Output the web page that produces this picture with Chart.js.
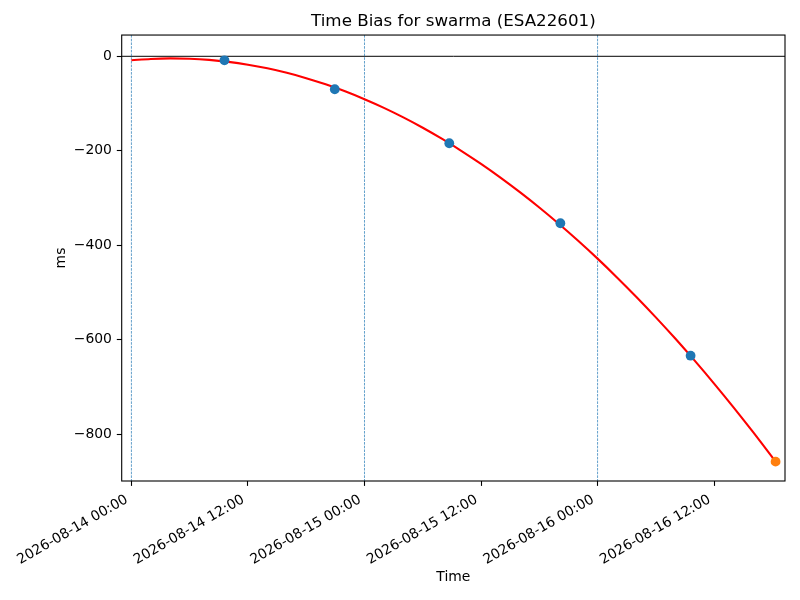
<!DOCTYPE html>
<html><head><meta charset="utf-8">
<script src="https://cdn.jsdelivr.net/npm/chart.js@4.4.1/dist/chart.umd.min.js"></script>
<style>html,body{margin:0;padding:0;background:#fff}#wrap{width:800px;height:600px}</style>
</head><body>
<div id="wrap"><canvas id="c" width="800" height="600"></canvas></div>
<script>
// ---- data (times are hours since 2026-08-14 00:00) ----
const titleText = 'Time Bias for swarma (ESA22601)';
const xAxisLabel = 'Time';
const yAxisLabel = 'ms';

const obsHours = [9.58, 20.94, 32.73, 44.17, 57.58];
const obsBias  = [-8.5, -69.8, -184.1, -353.4, -633.7];

const predHours = [66.33];
const predBias  = [-858];

const fitHours = [0, 2, 4, 6, 8, 10, 12, 14, 16, 18, 20, 22, 24, 26, 28, 30, 32, 34,
                  36, 38, 40, 42, 44, 46, 48, 50, 52, 54, 56, 58, 60, 62, 64, 66.33];
const fitBias  = [-8.5, -5.6, -4.5, -5.2, -7.6, -11.8, -17.8, -25.5, -35.0, -46.3, -59.4,
                  -74.2, -90.9, -109.2, -129.4, -151.3, -175.0, -200.5, -227.7, -256.7,
                  -287.5, -320.0, -354.4, -390.5, -428.3, -468.0, -509.4, -552.6, -597.5,
                  -644.3, -692.8, -743.1, -795.2, -858.0];

const xTickHours  = [0, 12, 24, 36, 48, 60];
const xTickLabels = ['2026-08-14 00:00', '2026-08-14 12:00', '2026-08-15 00:00',
                     '2026-08-15 12:00', '2026-08-16 00:00', '2026-08-16 12:00'];
const yTickValues = [0, -200, -400, -600, -800];
const dayMarkHours = [0, 24, 48];
const zeroLevel = 0;

// ---- chart ----
Chart.defaults.font.family = "'DejaVu Sans', sans-serif";
Chart.defaults.color = '#000';

const toXY = (xs, ys) => xs.map((x, i) => ({x: x, y: ys[i]}));

const refLines = {
  id: 'refLines',
  beforeDatasetsDraw(chart) {
    const {ctx, chartArea: a, scales: {x, y}} = chart;
    ctx.save();
    ctx.beginPath(); ctx.rect(a.left, a.top, a.right - a.left, a.bottom - a.top); ctx.clip();
    // horizontal zero line
    const yp = y.getPixelForValue(zeroLevel);
    ctx.strokeStyle = '#000'; ctx.lineWidth = 1; ctx.setLineDash([]);
    ctx.beginPath(); ctx.moveTo(a.left, yp); ctx.lineTo(a.right, yp); ctx.stroke();
    // day boundary dashed lines
    ctx.strokeStyle = '#1f77b4'; ctx.lineWidth = 0.7; ctx.setLineDash([2.6, 1.1]);
    dayMarkHours.forEach(h => {
      const xp = x.getPixelForValue(h);
      ctx.beginPath(); ctx.moveTo(xp, a.top); ctx.lineTo(xp, a.bottom); ctx.stroke();
    });
    ctx.restore();
  },
  afterDraw(chart) {
    const {ctx, chartArea: a} = chart;
    ctx.save();
    ctx.strokeStyle = '#000'; ctx.lineWidth = 1.1;
    ctx.strokeRect(a.left, a.top, a.right - a.left, a.bottom - a.top);
    ctx.restore();
  }
};

new Chart(document.getElementById('c'), {
  type: 'line',
  data: {
    datasets: [
      {
        label: 'observed', data: toXY(obsHours, obsBias), showLine: false,
        pointRadius: 4.9, pointHoverRadius: 4.9, pointBackgroundColor: '#1f77b4',
        pointBorderWidth: 0, borderColor: '#1f77b4', order: 0
      },
      {
        label: 'predicted', data: toXY(predHours, predBias), showLine: false,
        pointRadius: 4.9, pointHoverRadius: 4.9, pointBackgroundColor: '#ff7f0e',
        pointBorderWidth: 0, borderColor: '#ff7f0e', order: 0
      },
      {
        label: 'fit', data: toXY(fitHours, fitBias), borderColor: '#ff0000',
        borderWidth: 2.1, pointRadius: 0, cubicInterpolationMode: 'monotone',
        fill: false, order: 1
      }
    ]
  },
  options: {
    responsive: false,
    animation: false,
    devicePixelRatio: 1,
    layout: {padding: {left: 0, right: 15, top: 0, bottom: 0}},
    plugins: {
      legend: {display: false},
      tooltip: {enabled: false},
      title: {
        display: true, text: titleText, fullSize: false, color: '#000',
        font: {size: 16.7, weight: 'normal'}, padding: {top: 12, bottom: 3}
      }
    },
    scales: {
      x: {
        type: 'linear', position: 'bottom', min: -1.0, max: 67.3,
        afterBuildTicks: s => { s.ticks = xTickHours.map(v => ({value: v})); },
        afterFit: s => { s.height = 119; },
        border: {display: false},
        grid: {drawOnChartArea: false, drawTicks: true, tickLength: 4.9, tickColor: '#000', tickWidth: 1.1},
        ticks: {
          autoSkip: false, maxRotation: 30, minRotation: 30, padding: 5.5, labelOffset: -4.5,
          font: {size: 13.9}, color: '#000',
          callback: v => { const i = xTickHours.indexOf(v); return i >= 0 ? xTickLabels[i] : ''; }
        },
        title: {display: true, text: xAxisLabel, font: {size: 13.9}, color: '#000', padding: {top: 0, bottom: 14.7}}
      },
      y: {
        type: 'linear', position: 'left', min: -899, max: 45,
        afterBuildTicks: s => { s.ticks = yTickValues.map(v => ({value: v})); },
        afterFit: s => { s.width = 121.7; },
        border: {display: false},
        grid: {drawOnChartArea: false, drawTicks: true, tickLength: 4.9, tickColor: '#000', tickWidth: 1.1},
        ticks: {
          padding: 4.9, font: {size: 13.9}, color: '#000',
          callback: v => (v < 0 ? '\u2212' + Math.abs(v) : String(v))
        },
        title: {display: true, text: yAxisLabel, font: {size: 13.9}, color: '#000', padding: {top: 53.4, bottom: 0}}
      }
    }
  },
  plugins: [refLines]
});
</script>
</body></html>
